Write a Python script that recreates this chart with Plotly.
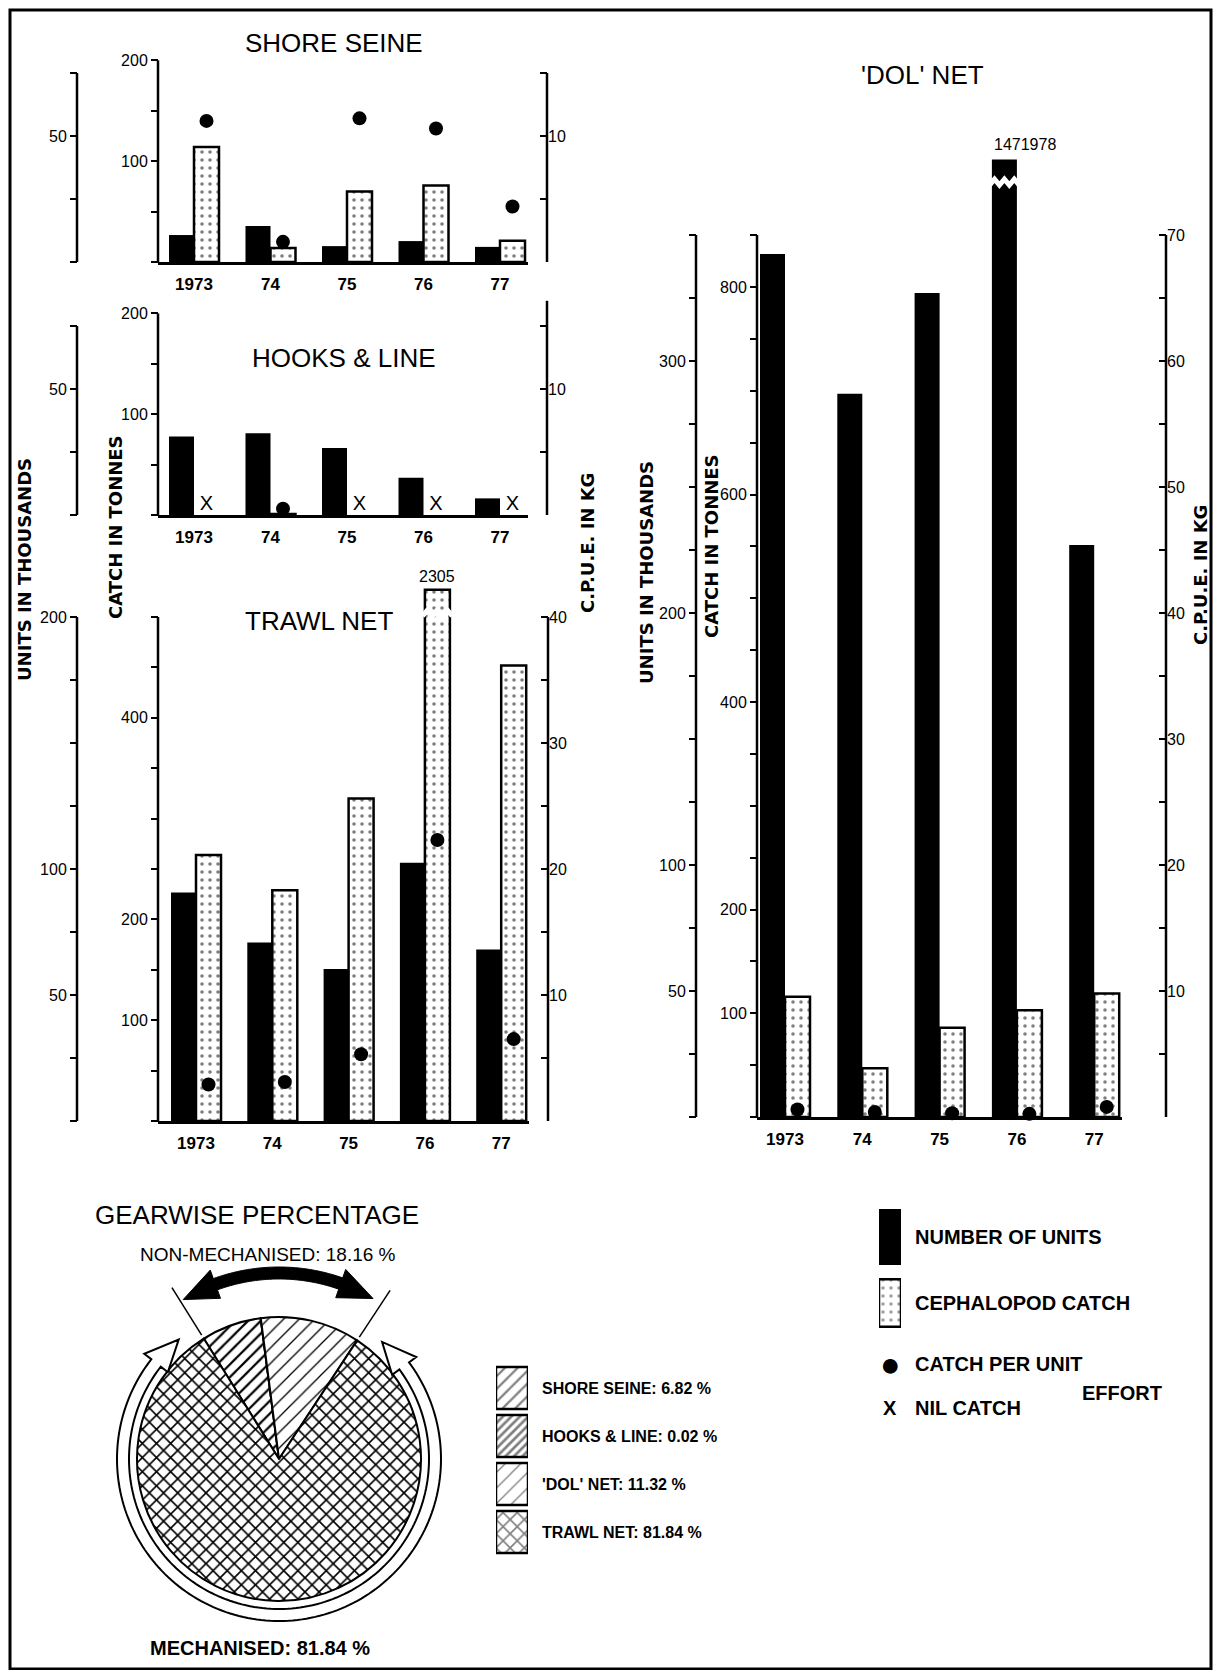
import numpy as np
import plotly.graph_objects as go

W, H = 1221, 1678          # page size
OFF = 8                    # default body margin of the html page
FW, FH = W - 2 * OFF, H - 2 * OFF
FONT = "Liberation Sans, Arial, sans-serif"
FONT_AX = "DejaVu Sans, Liberation Sans, sans-serif"

years = ["1973", "74", "75", "76", "77"]

# shore seine: units (thousands), cephalopod catch (t), c.p.u.e. (kg)
ss_units = [10.7, 14.3, 6.3, 8.3, 6.0]
ss_catch = [114, 14, 70, 76, 21]
ss_cpue = [11.2, 1.6, 11.4, 10.6, 4.4]

# hooks & line (None = nil catch)
hl_units = [31.2, 32.4, 26.6, 14.8, 6.6]
hl_catch = [None, 1, None, None, None]
hl_cpue = [None, 0.5, None, None, None]

# trawl net
tn_units = [90.7, 70.8, 60.3, 102.5, 68.1]
tn_catch = [264, 229, 320, 2305, 452]
tn_cpue = [2.9, 3.1, 5.3, 22.3, 6.5]

# 'dol' net
dn_units = [342.5, 287, 327, 1471.978, 227]
dn_catch = [116, 47, 86, 103, 119]
dn_cpue = [0.6, 0.4, 0.3, 0.25, 0.8]

gears = ["SHORE SEINE", "HOOKS & LINE", "'DOL' NET", "TRAWL NET"]
gear_pct = [6.82, 0.02, 11.32, 81.84]

bar_legend = ["NUMBER OF UNITS", "CEPHALOPOD CATCH"]


def fx(x):
    return (x - OFF) / FW


def fy(y):
    return 1 - (y - OFF) / FH


def yname(i):
    return "yaxis" if i == 1 else f"yaxis{i}"


def yref(i):
    return "y" if i == 1 else f"y{i}"


def xname(i):
    return "xaxis" if i == 1 else f"xaxis{i}"


def xref(i):
    return "x" if i == 1 else f"x{i}"


def ticks(top, step, labelled):
    vals = list(range(0, top + 1, step))
    return vals, [str(v) if v in labelled else "" for v in vals]


def text(x, y, t, size, xanchor="center", font=FONT, **kw):
    return dict(x=fx(x), y=fy(y), xref="paper", yref="paper", text=t, showarrow=False,
                xanchor=xanchor, yanchor="middle",
                font=dict(family=font, size=size, color="black"), **kw)


K_U, K_E = 2.52, 12.6      # px per thousand units, px per kg
BWPX = 25                  # bar width in px

panels = [
    dict(title="SHORE SEINE", tx=334, ty=43, units=ss_units, catch=ss_catch, cpue=ss_cpue,
         base=262, top=52, xu=77, xc=158, xr=547, x0=194, sp=76.5, kc=1.008,
         ut=(75, 25, [50]), ct=(200, 50, [100, 200]), et=(15, 5, [10]), eline=15),
    dict(title="HOOKS & LINE", tx=344, ty=358, units=hl_units, catch=hl_catch, cpue=hl_cpue,
         base=515, top=298, xu=77, xc=158, xr=547, x0=194, sp=76.5, kc=1.008,
         ut=(75, 25, [50]), ct=(200, 50, [100, 200]), et=(15, 5, [10]), eline=17),
    dict(title="TRAWL NET", tx=319, ty=621, units=tn_units, catch=tn_catch, cpue=tn_cpue,
         base=1121, top=580, xu=77, xc=158, xr=548, x0=196, sp=76.3, kc=1.008,
         ut=(200, 25, [50, 100, 200]), ct=(500, 50, [100, 200, 400]),
         et=(40, 5, [10, 20, 30, 40]), eline=40, ccap=527, cbreak=504),
    dict(title="'DOL' NET", tx=922, ty=75, units=dn_units, catch=dn_catch, cpue=dn_cpue,
         base=1117, top=150, xu=696, xc=757, xr=1166, x0=785, sp=77.3, kc=1.0375,
         ut=(350, 25, [50, 100, 200, 300]), ct=(850, 50, [100, 200, 400, 600, 800]),
         et=(70, 5, [10, 20, 30, 40, 50, 60, 70]), eline=70, ucap=380, ubreak=371),
]

fig = go.Figure()
lay = {}
shapes, annots = [], []
tfont = dict(family=FONT, size=16, color="black")
idx = list(range(len(years)))
dots = dict(shape=".", fgcolor="black", bgcolor="white", size=8, solidity=0.16)

for k, p in enumerate(panels):
    n = k + 1
    yu, yc, ye = 3 * k + 1, 3 * k + 2, 3 * k + 3
    hpx = p["base"] - p["top"]
    sp = p["sp"]
    bw = BWPX / sp
    common = dict(showgrid=False, zeroline=False, showline=False, tickcolor="black",
                  tickwidth=2, ticklen=7, tickfont=tfont, automargin=False, anchor="free")
    uv, utx = ticks(*p["ut"])
    cv, ctx = ticks(*p["ct"])
    ev, etx = ticks(*p["et"])
    lay[yname(yu)] = dict(common, domain=[fy(p["base"]), fy(p["top"])], range=[0, hpx / K_U],
                          position=fx(p["xu"]), tickvals=uv, ticktext=utx, ticks="outside")
    lay[yname(yc)] = dict(common, overlaying=yref(yu), range=[0, hpx / p["kc"]],
                          position=fx(p["xc"]), tickvals=cv, ticktext=ctx, ticks="outside")
    lay[yname(ye)] = dict(common, overlaying=yref(yu), side="right", range=[0, hpx / K_E],
                          position=fx(p["xr"]), tickvals=ev, ticktext=etx, ticks="inside")
    xend = p["x0"] + 4 * sp + BWPX + 3
    lay[xname(n)] = dict(domain=[fx(p["xc"]), fx(xend)],
                         range=[(p["xc"] - p["x0"]) / sp, (xend - p["x0"]) / sp],
                         anchor=yref(yu), showline=True, linewidth=2.5, linecolor="black",
                         showgrid=False, zeroline=False, ticks="", tickvals=idx,
                         ticktext=[f"<b>{y}</b>" for y in years], ticklabelstandoff=5,
                         tickfont=dict(family=FONT, size=17, color="black"), automargin=False)

    # axis lines end at their last tick
    for pos, ax, top in [(p["xu"], yu, p["ut"][0]), (p["xc"], yc, p["ct"][0]),
                         (p["xr"], ye, p["eline"])]:
        shapes.append(dict(type="line", xref="paper", yref=yref(ax), x0=fx(pos), x1=fx(pos),
                           y0=0, y1=top, line=dict(color="black", width=2.5)))

    ucap = p.get("ucap")
    ccap = p.get("ccap")
    u_disp = [min(v, ucap) if ucap else v for v in p["units"]]
    c_disp = [min(v, ccap) if (ccap and v is not None) else v for v in p["catch"]]

    fig.add_trace(go.Bar(x=idx, y=u_disp, width=bw, offset=-bw, xaxis=xref(n), yaxis=yref(yu),
                         marker=dict(color="black", line=dict(width=0))))
    fig.add_trace(go.Bar(x=idx, y=c_disp, width=bw, offset=0, xaxis=xref(n), yaxis=yref(yc),
                         marker=dict(color="white", line=dict(color="black", width=2.5),
                                     pattern=dots)))
    fig.add_trace(go.Scatter(x=[i + bw / 2 for i in idx], y=p["cpue"], mode="markers",
                             xaxis=xref(n), yaxis=yref(ye), cliponaxis=False,
                             marker=dict(size=14, color="black")))
    nil = [i for i, v in enumerate(p["catch"]) if v is None]
    if nil:
        fig.add_trace(go.Scatter(x=[i + bw / 2 for i in nil], y=[0] * len(nil), mode="text",
                                 text=["X"] * len(nil), textposition="top center",
                                 textfont=dict(family=FONT, size=20, color="black"),
                                 xaxis=xref(n), yaxis=yref(yc), cliponaxis=False))

    # broken bars
    if ccap:
        i = max(idx, key=lambda j: p["catch"][j])
        xs = np.linspace(i - 0.03, i + bw + 0.03, 7)
        ys = [p["cbreak"] + (3 if j % 2 else -3) / p["kc"] for j in range(len(xs))]
        path = "M " + " L ".join(f"{a:.4f},{b:.3f}" for a, b in zip(xs, ys))
        shapes.append(dict(type="path", xref=xref(n), yref=yref(yc), path=path,
                           line=dict(color="white", width=5)))
        annots.append(dict(x=i + bw / 2, y=ccap, xref=xref(n), yref=yref(yc), yanchor="bottom",
                           xanchor="center", text=f"{p['catch'][i]:.0f}", showarrow=False,
                           yshift=3, font=dict(family=FONT, size=16, color="black")))
    if ucap:
        i = max(idx, key=lambda j: p["units"][j])
        xs = np.linspace(i - bw - 0.03, i + 0.03, 7)
        ys = [p["ubreak"] + (3 if j % 2 else -3) / K_U for j in range(len(xs))]
        path = "M " + " L ".join(f"{a:.4f},{b:.3f}" for a, b in zip(xs, ys))
        shapes.append(dict(type="path", xref=xref(n), yref=yref(yu), path=path,
                           line=dict(color="white", width=5)))
        annots.append(dict(x=i - bw, y=ucap, xref=xref(n), yref=yref(yu), yanchor="bottom",
                           xanchor="left", text=f"{p['units'][i] * 1000:.0f}", showarrow=False,
                           yshift=4, font=dict(family=FONT, size=16, color="black")))

    annots.append(text(p["tx"], p["ty"], p["title"], 26))

# vertical axis titles
for t, x, y in [("UNITS IN THOUSANDS", 24, 570), ("CATCH IN TONNES", 115, 527),
                ("C.P.U.E. IN KG", 587, 543), ("UNITS IN THOUSANDS", 646, 573),
                ("CATCH IN TONNES", 711, 546), ("C.P.U.E. IN KG", 1201, 575)]:
    annots.append(text(x, y, f"<b>{t}</b>", 18, font=FONT_AX, textangle=-90))

# ---- gearwise percentage pie ----
PCX, PCY, PR = 279, 1459, 142
ROT = -32
pie_shapes = ["/", "/", "/", "x"]
pie_sizes = [9, 6, 11, 10]
pie_solid = [0.25, 0.45, 0.12, 0.3]

fig.add_trace(go.Pie(labels=gears, values=gear_pct, sort=False, direction="clockwise",
                     rotation=ROT, textinfo="none", hoverinfo="label+percent",
                     domain=dict(x=[fx(PCX - PR), fx(PCX + PR)], y=[fy(PCY + PR), fy(PCY - PR)]),
                     marker=dict(colors=["white"] * 4, line=dict(color="black", width=2),
                                 pattern=dict(shape=pie_shapes, size=pie_sizes,
                                              solidity=pie_solid, fgcolor="black",
                                              bgcolor="white"))))


def pt(r, deg):
    a = np.radians(deg)
    return PCX + r * np.sin(a), PCY - r * np.cos(a)


def poly(points):
    return "M " + " L ".join(f"{fx(x):.5f},{fy(y):.5f}" for x, y in points) + " Z"


non_mech = sum(gear_pct[:3])
a_start = ROT
a_end = ROT + 3.6 * non_mech

# white ring arrow (mechanised)
r1, r2 = PR + 8, PR + 20
rm = (r1 + r2) / 2
ring_a, ring_b = a_end + 20, 360 + a_start - 20
pts = [pt(r2, a) for a in np.linspace(ring_a, ring_b, 160)]
pts += [pt(r2 + 9, ring_b), pt(rm, ring_b + 12), pt(r1 - 9, ring_b)]
pts += [pt(r1, a) for a in np.linspace(ring_b, ring_a, 160)]
pts += [pt(r1 - 9, ring_a), pt(rm, ring_a - 12), pt(r2 + 9, ring_a)]
shapes.append(dict(type="path", xref="paper", yref="paper", path=poly(pts),
                   fillcolor="white", line=dict(color="black", width=2)))

# black double arrow (non-mechanised)
b1, b2 = PR + 38, PR + 50
bm = (b1 + b2) / 2
arc_a, arc_b = a_start + 12, a_end - 14
pts = [pt(b2, a) for a in np.linspace(arc_a, arc_b, 80)]
pts += [pt(b2 + 9, arc_b), pt(bm, arc_b + 11), pt(b1 - 9, arc_b)]
pts += [pt(b1, a) for a in np.linspace(arc_b, arc_a, 80)]
pts += [pt(b1 - 9, arc_a), pt(bm, arc_a - 11), pt(b2 + 9, arc_a)]
shapes.append(dict(type="path", xref="paper", yref="paper", path=poly(pts),
                   fillcolor="black", line=dict(color="black", width=1)))

for a in (a_start, a_end):
    (xa, ya), (xb, yb) = pt(PR + 4, a), pt(PR + 60, a)
    shapes.append(dict(type="line", xref="paper", yref="paper", x0=fx(xa), y0=fy(ya),
                       x1=fx(xb), y1=fy(yb), line=dict(color="black", width=1.5)))

annots.append(text(257, 1215, "GEARWISE PERCENTAGE", 26))
annots.append(text(268, 1254, f"NON-MECHANISED: {non_mech:.2f} %", 19))
annots.append(text(260, 1648, f"<b>MECHANISED: {gear_pct[3]:.2f} %</b>", 20))

# pie legend swatches
fig.add_trace(go.Bar(x=[1] * 4, y=list(range(4)), orientation="h", width=0.88,
                     xaxis="x5", yaxis="y13",
                     marker=dict(color="white", line=dict(color="black", width=2.5),
                                 pattern=dict(shape=pie_shapes, size=pie_sizes,
                                              solidity=pie_solid, fgcolor="black",
                                              bgcolor="white"))))
lay["xaxis5"] = dict(domain=[fx(496), fx(528)], range=[0, 1], visible=False, anchor="y13")
lay["yaxis13"] = dict(domain=[fy(1556), fy(1364)], range=[3.5, -0.5], visible=False, anchor="x5")
for j, (g, v) in enumerate(zip(gears, gear_pct)):
    annots.append(dict(x=fx(540), y=j, xref="paper", yref="y13", xanchor="left",
                       yanchor="middle", text=f"<b>{g}: {v:.2f} %</b>", showarrow=False,
                       font=dict(family=FONT, size=16, color="black")))

# bar legend swatches
fig.add_trace(go.Bar(x=[1, 1], y=[0, 1], orientation="h", width=[0.85, 0.72],
                     xaxis="x6", yaxis="y14",
                     marker=dict(color=["black", "white"],
                                 line=dict(color="black", width=[0, 2.5]),
                                 pattern=dict(shape=["", "."], fgcolor="black",
                                              bgcolor=["black", "white"], size=8,
                                              solidity=0.16))))
lay["xaxis6"] = dict(domain=[fx(879), fx(901)], range=[0, 1], visible=False, anchor="y14")
lay["yaxis14"] = dict(domain=[fy(1336), fy(1204)], range=[1.5, -0.5], visible=False, anchor="x6")
for j, t in enumerate(bar_legend):
    annots.append(dict(x=fx(913), y=j, xref="paper", yref="y14", xanchor="left",
                       yanchor="middle", text=f"<b>{t}</b>", showarrow=False,
                       font=dict(family=FONT, size=20, color="black")))
annots.append(text(890, 1364, "●", 34))
for t, x, y, anc in [("CATCH PER UNIT", 913, 1364, "left"), ("EFFORT", 1164, 1393, "right"),
                     ("X", 890, 1408, "center"), ("NIL CATCH", 913, 1408, "left")]:
    annots.append(text(x, y, f"<b>{t}</b>", 20, xanchor=anc))

# frame
shapes.append(dict(type="rect", xref="paper", yref="paper", x0=fx(10), x1=fx(1211),
                   y0=fy(1669), y1=fy(10), line=dict(color="black", width=3)))

fig.update_layout(width=FW, height=FH, margin=dict(l=0, r=0, t=0, b=0, pad=0),
                  paper_bgcolor="white", plot_bgcolor="rgba(0,0,0,0)", showlegend=False,
                  barmode="overlay", shapes=shapes, annotations=annots,
                  font=dict(family=FONT, color="black"), **lay)

fig.write_html("out.html")
